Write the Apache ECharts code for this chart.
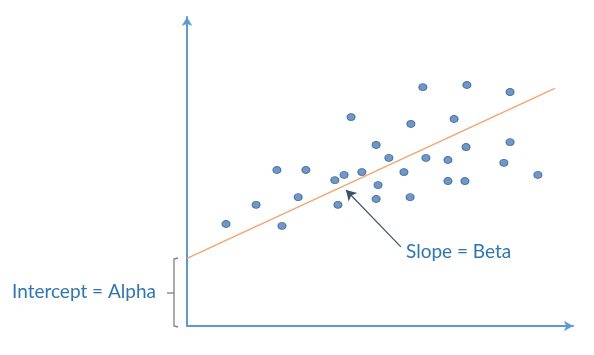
<!DOCTYPE html>
<html>
<head>
<meta charset="utf-8">
<script src="https://cdn.jsdelivr.net/npm/echarts@6/dist/echarts.min.js"></script>
<style>
  html, body { margin: 0; padding: 0; background: #fff; }
  #chart { width: 594px; height: 355px; }
</style>
</head>
<body>
<div id="chart"></div>
<script>
// scatter values (arbitrary 0-100 units)
var xs = [10.1, 17.9, 24.6, 23.3, 30.8, 28.8, 42.5, 38.3, 40.7, 45.3,
          39.1, 49.0, 52.3, 49.5, 49.0, 61.1, 72.5, 83.7, 58.0, 69.2,
          61.9, 67.6, 72.3, 83.7, 56.2, 82.1, 67.6, 72.0, 90.9, 57.8];
var ys = [33.0, 39.2, 32.4, 50.5, 50.5, 41.7, 67.6, 47.2, 48.9, 49.8,
          39.2, 58.6, 54.4, 45.6, 41.1, 77.3, 78.0, 75.7, 65.4, 67.0,
          54.4, 53.7, 57.9, 59.5, 49.8, 52.8, 46.9, 46.9, 48.9, 41.7];
// fitted line end points
var fitX = [0, 95.3];
var fitY = [21.9, 76.9];
// slope arrow: tail -> head
var arrowFrom = [55.4, 25.6];
var arrowTo = [41.2, 44.0];

var points = xs.map(function (x, i) { return [x, ys[i]]; });
var fitLine = fitX.map(function (x, i) { return [x, fitY[i]]; });

var myChart = echarts.init(document.getElementById('chart'));
var font = 'Lato, "Open Sans", sans-serif';
var axisBlue = '#5B9BD5';

var option = {
    animation: false,
    grid: { left: 187, right: 21, top: 17, bottom: 29 },
    xAxis: {
        type: 'value', min: 0, max: 100,
        axisLine: { lineStyle: { color: axisBlue, width: 2 }, symbol: ['none', 'arrow'], symbolSize: [8, 9] },
        axisTick: { show: false }, axisLabel: { show: false }, splitLine: { show: false }
    },
    yAxis: {
        type: 'value', min: 0, max: 100,
        axisLine: { show: true, lineStyle: { color: axisBlue, width: 2 }, symbol: ['none', 'arrow'], symbolSize: [8, 9] },
        axisTick: { show: false }, axisLabel: { show: false }, splitLine: { show: false }
    },
    series: [
        {
            type: 'line',
            data: fitLine,
            showSymbol: false,
            lineStyle: { color: '#F4A46C', width: 1.3 },
            markLine: {
                silent: true,
                symbol: ['none', 'arrow'],
                symbolSize: [9, 10],
                label: { show: false },
                lineStyle: { color: '#3E4F6E', width: 1.2, type: 'solid' },
                data: [[{ coord: arrowFrom }, { coord: arrowTo }]]
            }
        },
        {
            type: 'scatter',
            data: points,
            symbol: 'circle',
            symbolSize: [8, 7],
            itemStyle: { color: '#4A7EBB', borderColor: '#2E5D91', borderWidth: 1 }
        }
    ],
    graphic: [
        {
            type: 'text', left: 406, top: 242,
            style: { text: 'Slope = Beta', font: '19px ' + font, fill: '#2E75B6' }
        },
        {
            type: 'text', left: 12, top: 282,
            style: { text: 'Intercept = Alpha', font: '19px ' + font, fill: '#2E75B6' }
        },
        {
            type: 'polyline',
            shape: { points: [[178, 258], [174, 259], [174, 326], [178, 327]] },
            style: { stroke: '#7F7F7F', lineWidth: 1.3, fill: null }
        },
        {
            type: 'line',
            shape: { x1: 167, y1: 293, x2: 174, y2: 293 },
            style: { stroke: '#7F7F7F', lineWidth: 1.3 }
        }
    ]
};
myChart.setOption(option);
</script>
</body>
</html>
